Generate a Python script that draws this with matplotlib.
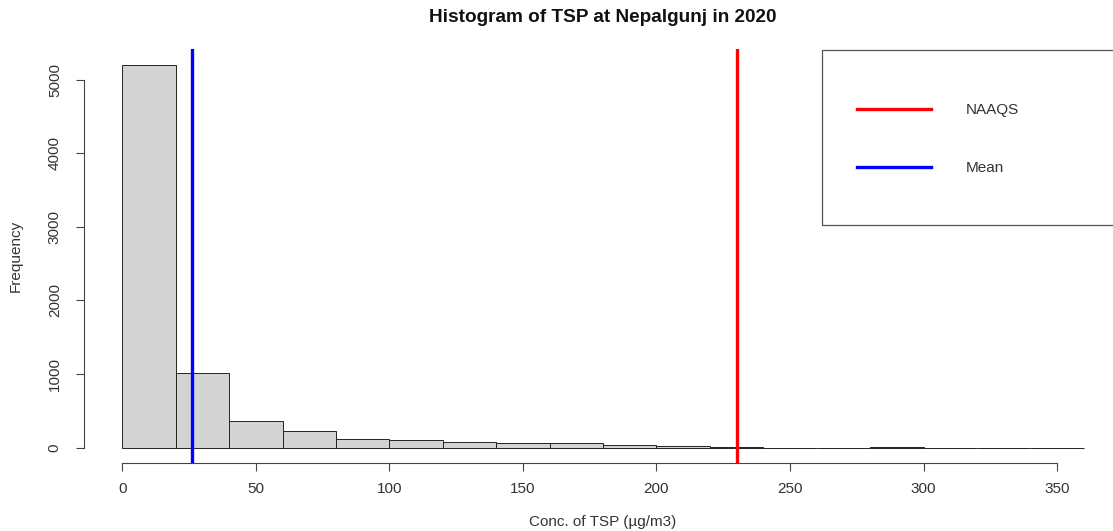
import matplotlib
matplotlib.use("Agg")
import matplotlib.pyplot as plt
from matplotlib.patches import Rectangle
from matplotlib.lines import Line2D

# histogram bins (20 ug/m3 wide) and counts
bin_edges = list(range(0, 380, 20))
counts = [5205, 1020, 362, 227, 114, 110, 81, 62, 58, 38, 22, 10, 0, 0, 4, 0, 0, 0]

naaqs = 230     # NAAQS for TSP
mean_tsp = 26.2

x_ticks = [0, 50, 100, 150, 200, 250, 300, 350]
y_ticks = [0, 1000, 2000, 3000, 4000, 5000]

plt.rcParams['font.family'] = ['Liberation Sans', 'DejaVu Sans']
txt = '#333333'

W, H = 1113, 531
fig = plt.figure(figsize=(W / 100, H / 100), dpi=100)
# plot region is slightly wider than the picture (cropped on the right, like the original)
ax = fig.add_axes([83.8 / W, (H - 463) / H, 1038.5 / W, 413.8 / H])

lefts = bin_edges[:-1]
ax.bar(lefts, counts, width=20, align='edge', color='#d3d3d3',
       edgecolor='#222222', linewidth=0.7)

ax.axvline(naaqs, color='#ff0000', lw=2.4)
ax.axvline(mean_tsp, color='#0000ff', lw=2.4)

# R style axis ranges (4% padding)
xr = bin_edges[-1] - bin_edges[0]
ax.set_xlim(bin_edges[0] - 0.04 * xr, bin_edges[-1] + 0.04 * xr)
ym = max(counts)
ax.set_ylim(-0.04 * ym, 1.04 * ym)

for s in ['top', 'right']:
    ax.spines[s].set_visible(False)
ax.spines['left'].set_bounds(y_ticks[0], y_ticks[-1])
ax.spines['bottom'].set_bounds(x_ticks[0], x_ticks[-1])
for s in ['left', 'bottom']:
    ax.spines[s].set_linewidth(0.8)
    ax.spines[s].set_color('#444444')

ax.set_xticks(x_ticks)
ax.set_yticks(y_ticks)
ax.tick_params(axis='both', length=5.8, width=0.8, color='#444444',
               labelsize=11, labelcolor=txt)
ax.tick_params(axis='x', pad=8)
ax.tick_params(axis='y', pad=10, labelrotation=90)
for lab in ax.get_yticklabels():
    lab.set_va('center')

ax.set_xlabel('Conc. of TSP (µg/m3)', fontsize=11, color=txt, va='center')
ax.xaxis.set_label_coords(0.5, (463 - 521.7) / 413.8)
ax.set_ylabel('Frequency', fontsize=11, color=txt, va='center')
ax.yaxis.set_label_coords((16 - 83.8) / 1038.5, 0.5)

ax.set_title('Histogram of TSP at Nepalgunj in 2020', fontsize=13.7,
             fontweight='bold', color='#111111', y=(463 - 18) / 413.8,
             va='center', pad=0)

# legend box (runs off the right edge as in the original)
fig.add_artist(Rectangle((821.7 / W, (H - 225) / H), 0.3, 175 / H,
                         transform=fig.transFigure, fill=False,
                         edgecolor='#555555', lw=0.9))
handles = [Line2D([], [], color='#ff0000', lw=2.4),
           Line2D([], [], color='#0000ff', lw=2.4)]
fig.legend(handles, ['NAAQS', 'Mean'], loc='upper left',
           bbox_to_anchor=(857 / W, (H - 103) / H), frameon=False,
           fontsize=11, handlelength=4.84, handletextpad=2.27,
           labelspacing=2.9, borderpad=0, borderaxespad=0,
           labelcolor=txt)

fig.savefig('out.png', dpi=100)
